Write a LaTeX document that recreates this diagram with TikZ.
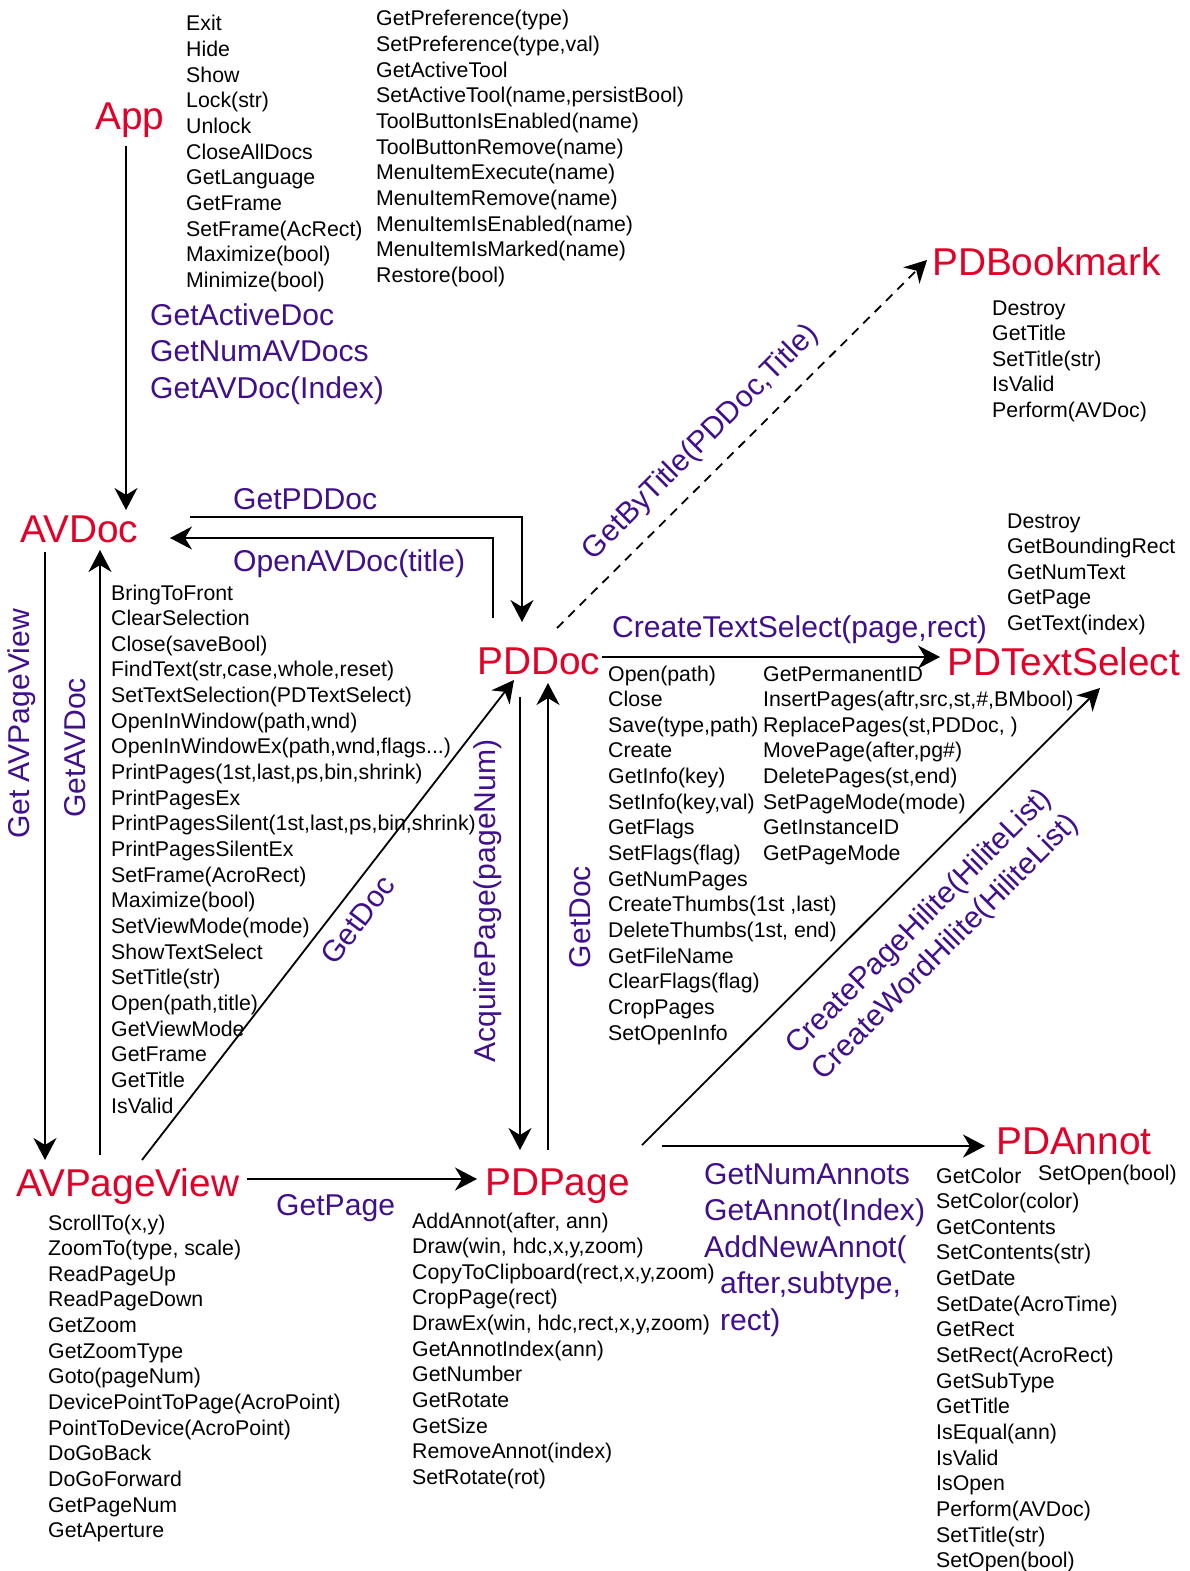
\documentclass[tikz,border=0pt]{standalone}
\usepackage{fontspec}
\setmainfont{Liberation Sans}
\usetikzlibrary{arrows.meta}
\definecolor{objred}{RGB}{226,0,40}
\definecolor{callpurple}{RGB}{64,16,140}

% a left-aligned column whose baseline is that of its first line
\newcommand{\mlist}[1]{\begin{tabular}[t]{@{}l@{}}#1\end{tabular}}

\begin{document}
\begin{tikzpicture}[x=1pt,y=-1pt,
  obj/.style={anchor=base west, inner sep=0pt, text=objred, font=\fontsize{38.8}{44}\selectfont},
  call/.style={anchor=base west, inner sep=0pt, text=callpurple, font=\fontsize{30.1}{36.5}\selectfont},
  rcall/.style={inner sep=0pt, text=callpurple, font=\fontsize{30.1}{36.5}\selectfont},
  meth/.style={anchor=base west, inner sep=0pt, font=\fontsize{21.3}{25.65}\selectfont},
  link/.style={line width=1.8pt, -{Stealth[length=22pt,width=23pt,inset=7pt]}},
]
\fill[white] (0,0) rectangle (1190,1571);
\useasboundingbox (0,0) rectangle (1190,1571);

% ---------- objects ----------
\node[obj] (app)      at (95,129)  {App};
\node[obj] (avdoc)    at (20,542)  {AVDoc};
\node[obj] (pddoc)    at (477,674) {PDDoc};
\node[obj] (avpv)     at (16,1196) {AVPageView};
\node[obj] (pdpage)   at (485,1195){PDPage};
\node[obj] (pdts)     at (947,675) {PDTextSelect};
\node[obj] (pdbm)     at (932,275) {PDBookmark};
\node[obj] (pdannot)  at (996,1154){PDAnnot};

% ---------- method lists ----------
\node[meth] (appm1) at (186,31) {\mlist{Exit\\Hide\\Show\\Lock(str)\\Unlock\\CloseAllDocs\\GetLanguage\\GetFrame\\SetFrame(AcRect)\\Maximize(bool)\\Minimize(bool)}};
\node[meth] (appm2) at (376,26) {\mlist{GetPreference(type)\\SetPreference(type,val)\\GetActiveTool\\SetActiveTool(name,persistBool)\\ToolButtonIsEnabled(name)\\ToolButtonRemove(name)\\MenuItemExecute(name)\\MenuItemRemove(name)\\MenuItemIsEnabled(name)\\MenuItemIsMarked(name)\\Restore(bool)}};
\node[meth] (avdocm) at (111,600) {\mlist{BringToFront\\ClearSelection\\Close(saveBool)\\FindText(str,case,whole,reset)\\SetTextSelection(PDTextSelect)\\OpenInWindow(path,wnd)\\OpenInWindowEx(path,wnd,flags...)\\PrintPages(1st,last,ps,bin,shrink)\\PrintPagesEx\\PrintPagesSilent(1st,last,ps,bin,shrink)\\PrintPagesSilentEx\\SetFrame(AcroRect)\\Maximize(bool)\\SetViewMode(mode)\\ShowTextSelect\\SetTitle(str)\\Open(path,title)\\GetViewMode\\GetFrame\\GetTitle\\IsValid}};
\node[meth] (pddocm1) at (608,681) {\mlist{Open(path)\\Close\\Save(type,path)\\Create\\GetInfo(key)\\SetInfo(key,val)\\GetFlags\\SetFlags(flag)\\GetNumPages\\CreateThumbs(1st ,last)\\DeleteThumbs(1st, end)\\GetFileName\\ClearFlags(flag)\\CropPages\\SetOpenInfo}};
\node[meth] (pddocm2) at (763,681) {\mlist{GetPermanentID\\InsertPages(aftr,src,st,\#,BMbool)\\ReplacePages(st,PDDoc, )\\MovePage(after,pg\#)\\DeletePages(st,end)\\SetPageMode(mode)\\GetInstanceID\\GetPageMode}};
\node[meth] (pdtsm) at (1007,528) {\mlist{Destroy\\GetBoundingRect\\GetNumText\\GetPage\\GetText(index)}};
\node[meth] (pdbmm) at (992,315) {\mlist{Destroy\\GetTitle\\SetTitle(str)\\IsValid\\Perform(AVDoc)}};
\node[meth] (avpvm) at (48,1230) {\mlist{ScrollTo(x,y)\\ZoomTo(type, scale)\\ReadPageUp\\ReadPageDown\\GetZoom\\GetZoomType\\Goto(pageNum)\\DevicePointToPage(AcroPoint)\\PointToDevice(AcroPoint)\\DoGoBack\\DoGoForward\\GetPageNum\\GetAperture}};
\node[meth] (pdpagem) at (412,1228) {\mlist{AddAnnot(after, ann)\\Draw(win, hdc,x,y,zoom)\\CopyToClipboard(rect,x,y,zoom)\\CropPage(rect)\\DrawEx(win, hdc,rect,x,y,zoom)\\GetAnnotIndex(ann)\\GetNumber\\GetRotate\\GetSize\\RemoveAnnot(index)\\SetRotate(rot)}};
\node[meth] (pdannotm) at (936,1183) {\mlist{GetColor\\SetColor(color)\\GetContents\\SetContents(str)\\GetDate\\SetDate(AcroTime)\\GetRect\\SetRect(AcroRect)\\GetSubType\\GetTitle\\IsEqual(ann)\\IsValid\\IsOpen\\Perform(AVDoc)\\SetTitle(str)\\SetOpen(bool)}};
\node[meth] (pdannotx) at (1038,1180) {SetOpen(bool)};

% ---------- call labels ----------
\node[call] (appcalls) at (150,325) {\mlist{GetActiveDoc\\GetNumAVDocs\\GetAVDoc(Index)}};
\node[call] (lgetpddoc) at (233,509) {GetPDDoc};
\node[call] (lopenav) at (233,571) {OpenAVDoc(title)};
\node[call] (lcts) at (612,637) {CreateTextSelect(page,rect)};
\node[call] (lgetpage) at (276,1215) {GetPage};
\node[call] (annotcalls) at (704,1184) {\mlist{GetNumAnnots\\GetAnnot(Index)\\AddNewAnnot(\\\hspace{16pt}after,subtype,\\\hspace{16pt}rect)}};
\node[rcall, rotate=90] (lgetavpv) at (22,724) {Get AVPageView};
\node[rcall, rotate=90] (lgetavdoc) at (75,748) {GetAVDoc};
\node[rcall, rotate=90] (lacq) at (488,901) {AcquirePage(pageNum)};
\node[rcall, rotate=90] (lgetdoc2) at (580,917) {GetDoc};
\node[rcall, rotate=53] (lgetdoc1) at (358,920) {GetDoc};
\node[rcall, rotate=45] (lgbt) at (701,443) {GetByTitle(PDDoc,Title)};
\node[rcall, rotate=45, align=left] (lhilite) at (933,935) {CreatePageHilite(HiliteList)\\CreateWordHilite(HiliteList)};

% ---------- connector ends ----------
\coordinate (appS)    at (126,146);
\coordinate (avdocN)  at (126,510);
\coordinate (avdocE1) at (190,517);
\coordinate (avdocE2) at (170,538);
\coordinate (pddocN1) at (522,622);
\coordinate (pddocN2) at (493,618);
\coordinate (avdocS1) at (45,552);
\coordinate (avdocS2) at (100,550);
\coordinate (avpvN1)  at (45,1160);
\coordinate (avpvN2)  at (100,1155);
\coordinate (avpvN3)  at (142,1160);
\coordinate (pddocSW) at (514,680);
\coordinate (avpvE)   at (247,1179);
\coordinate (pdpageW) at (477,1179);
\coordinate (pddocS1) at (520,697);
\coordinate (pddocS2) at (548,683);
\coordinate (pdpageN1) at (520,1150);
\coordinate (pdpageN2) at (548,1150);
\coordinate (pddocE)  at (602,657);
\coordinate (pdtsW)   at (940,657);
\coordinate (pddocNE) at (557,628);
\coordinate (pdbmSW)  at (927,260);
\coordinate (pdpageNE) at (642,1145);
\coordinate (pdtsS)   at (1100,688);
\coordinate (pdpageE) at (662,1146);
\coordinate (pdannotW) at (985,1146);

% ---------- connectors ----------
\draw[link] (appS) -- (avdocN);
\draw[link] (avdocE1) -- (pddocN1 |- avdocE1) -- (pddocN1);
\draw[link] (pddocN2) -- (pddocN2 |- avdocE2) -- (avdocE2);
\draw[link] (avdocS1) -- (avpvN1);
\draw[link] (avpvN2) -- (avdocS2);
\draw[link] (avpvN3) -- (pddocSW);
\draw[link] (avpvE) -- (pdpageW);
\draw[link] (pddocS1) -- (pdpageN1);
\draw[link] (pdpageN2) -- (pddocS2);
\draw[link] (pddocE) -- (pdtsW);
\draw[link, dash pattern=on 9pt off 7pt] (pddocNE) -- (pdbmSW);
\draw[link] (pdpageNE) -- (pdtsS);
\draw[link] (pdpageE) -- (pdannotW);
\end{tikzpicture}
\end{document}
